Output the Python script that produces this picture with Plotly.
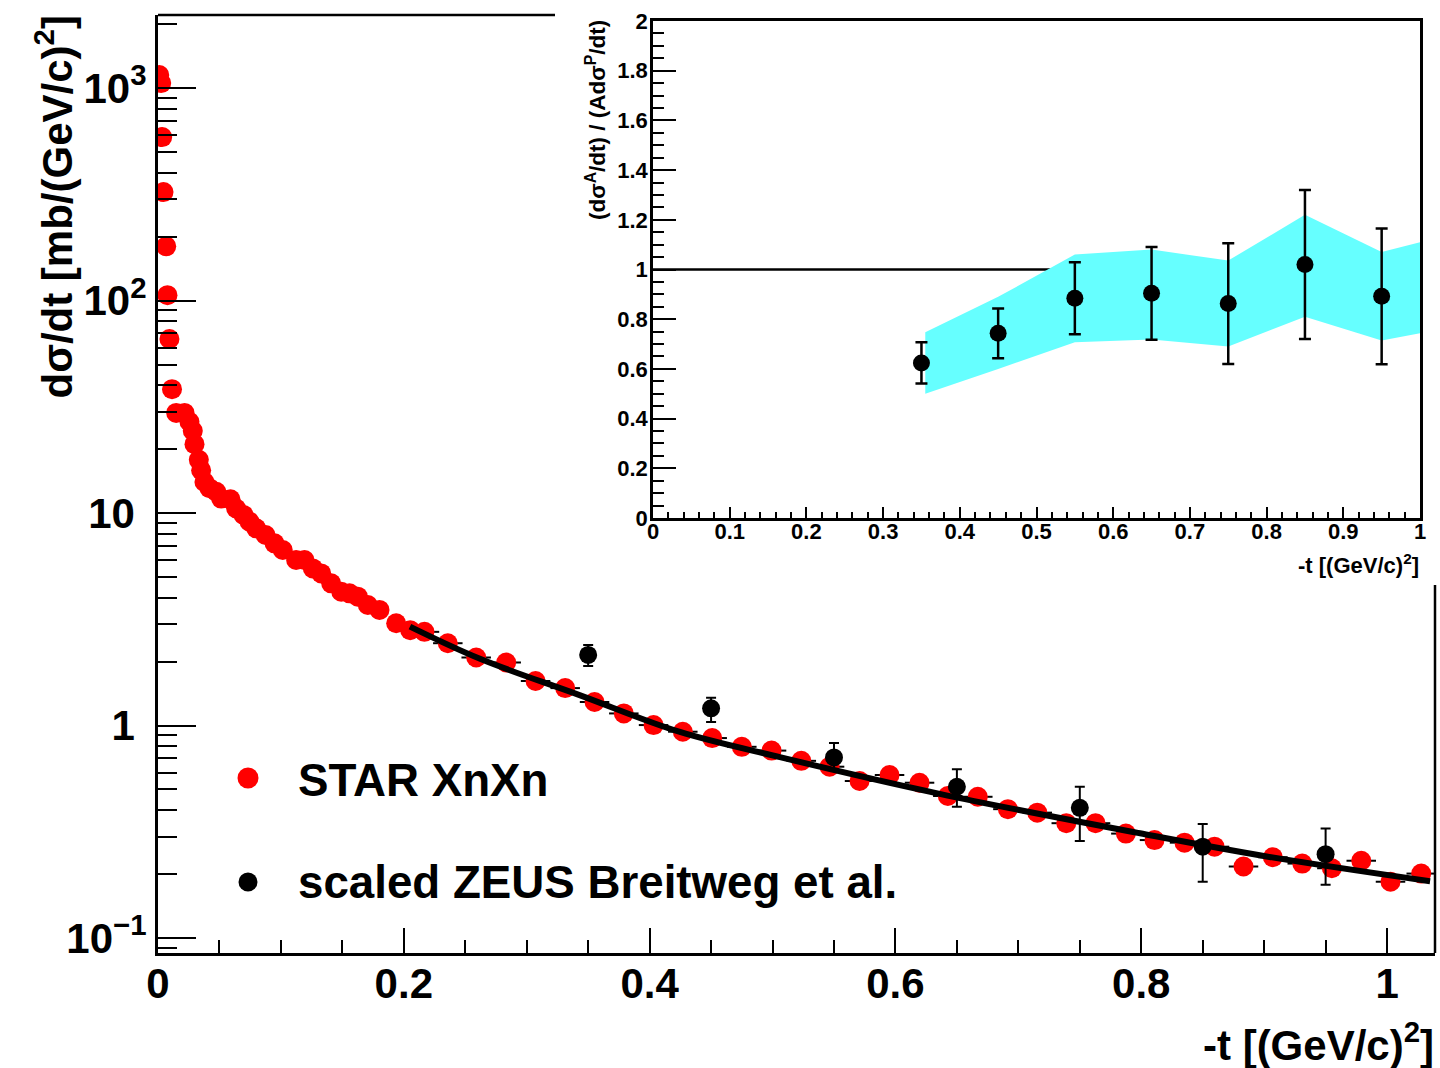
import plotly.graph_objects as go

# ---------------- data ----------------
# STAR XnXn, d sigma/dt [mb/(GeV/c)^2] vs -t [(GeV/c)^2]
star_t = [0.001, 0.0026, 0.0034, 0.0045, 0.0067, 0.0077, 0.0093, 0.0114, 0.0148,
          0.0216, 0.0256, 0.0283, 0.0297, 0.0332, 0.0351, 0.0378, 0.0419, 0.0474,
          0.0514, 0.0590, 0.0636, 0.0696, 0.0745, 0.0799, 0.0875, 0.0948, 0.1015,
          0.1124, 0.1192, 0.1260, 0.1328, 0.1409, 0.1491, 0.1558, 0.1626, 0.1707,
          0.1802, 0.1938,
          0.2052, 0.2168, 0.2358, 0.2589, 0.2833, 0.3072, 0.3313, 0.3552, 0.3790,
          0.4032, 0.4270, 0.4509, 0.4750, 0.4992, 0.5234, 0.5464, 0.5708, 0.5952,
          0.6196, 0.6426, 0.6670, 0.6915, 0.7154, 0.7390, 0.7628, 0.7875, 0.8108,
          0.8352, 0.8596, 0.8832, 0.9071, 0.9310, 0.9551, 0.9790, 1.0028, 1.0278]
star_val = [1151, 1056, 588, 324, 180, 106, 65.9, 38.3, 29.6,
            29.6, 26.9, 24.4, 21.1, 17.8, 15.9, 14.0, 13.1, 12.6,
            11.7, 11.6, 10.5, 9.8, 9.1, 8.47, 7.88, 7.20, 6.70,
            6.01, 6.01, 5.49, 5.20, 4.67, 4.26, 4.19, 4.04, 3.69,
            3.50, 3.03,
            2.81, 2.76, 2.44, 2.09, 1.98, 1.62, 1.50, 1.29, 1.14,
            1.005, 0.935, 0.873, 0.794, 0.762, 0.682, 0.640, 0.548, 0.585,
            0.538, 0.466, 0.462, 0.404, 0.389, 0.347, 0.347, 0.310, 0.289,
            0.281, 0.269, 0.217, 0.240, 0.224, 0.213, 0.231, 0.184, 0.201]
star_dt = [0] * 38 + [0.012] * 36   # half bin widths (horizontal bars)

# scaled ZEUS (Breitweg et al.)
zeus_t = [0.35, 0.45, 0.55, 0.65, 0.75, 0.85, 0.95]
zeus_val = [2.15, 1.205, 0.708, 0.515, 0.41, 0.269, 0.248]
zeus_err_hi = [0.24, 0.145, 0.12, 0.107, 0.105, 0.075, 0.08]
zeus_err_lo = [0.245, 0.165, 0.09, 0.10, 0.124, 0.085, 0.07]

# fit curve
fit_t = [0.205, 0.262, 0.343, 0.424, 0.506, 0.636, 0.799, 0.902, 1.035]
fit_val = [2.92, 2.06, 1.39, 0.935, 0.71, 0.477, 0.311, 0.242, 0.185]

# inset: ratio (d sigma^A/dt)/(A d sigma^P/dt)
ratio_t = [0.35, 0.45, 0.55, 0.65, 0.75, 0.85, 0.95]
ratio_val = [0.624, 0.743, 0.884, 0.904, 0.863, 1.02, 0.892]
ratio_err = [0.083, 0.10, 0.145, 0.187, 0.243, 0.30, 0.273]

band_t = [0.355, 0.45, 0.55, 0.65, 0.75, 0.85, 0.95, 1.0]
band_hi = [0.747, 0.89, 1.06, 1.08, 1.036, 1.22, 1.07, 1.11]
band_lo = [0.50, 0.60, 0.707, 0.718, 0.69, 0.81, 0.714, 0.743]
REF_RATIO = 1.0

PAD = "\u00a0"
main_yticks = [0.1, 1, 10, 100, 1000]
main_yticktext = ["10<sup>\u22121</sup>", "1" + PAD, "10" + PAD,
                  "10<sup>2</sup>", "10<sup>3</sup>"]

legend_labels = ["STAR XnXn", "scaled ZEUS Breitweg et al."]

# ---------------- figure ----------------
FONT = "Liberation Sans, Arial, Helvetica, sans-serif"
W, H = 1440, 1068
ML, MR, MT, MB = 158, 5, 15, 115
PW, PH = W - ML - MR, H - MT - MB


def px_x(p):
    return (p - ML) / PW


def px_y(p):
    return (H - MB - p) / PH


fig = go.Figure()

fig.add_trace(go.Scatter(
    x=star_t, y=star_val, mode="markers", name=legend_labels[0],
    marker=dict(color="#ff0000", size=20),
    error_x=dict(type="data", array=star_dt, color="black", thickness=2, width=0),
    xaxis="x", yaxis="y", showlegend=False))

fig.add_trace(go.Scatter(
    x=fit_t, y=fit_val, mode="lines", line=dict(color="black", width=6, shape="spline"),
    xaxis="x", yaxis="y", showlegend=False))

fig.add_trace(go.Scatter(
    x=zeus_t, y=zeus_val, mode="markers", name=legend_labels[1],
    marker=dict(color="black", size=18),
    error_y=dict(type="data", symmetric=False, array=zeus_err_hi, arrayminus=zeus_err_lo,
                 color="black", thickness=2, width=5),
    xaxis="x", yaxis="y", showlegend=False))

# inset band
fig.add_trace(go.Scatter(
    x=band_t + band_t[::-1], y=band_hi + band_lo[::-1], mode="lines", fill="toself",
    fillcolor="#66ffff", line=dict(width=0, color="#66ffff"),
    xaxis="x2", yaxis="y2", showlegend=False))

fig.add_trace(go.Scatter(
    x=ratio_t, y=ratio_val, mode="markers",
    marker=dict(color="black", size=17),
    error_y=dict(type="data", array=ratio_err, color="black", thickness=2.5, width=6),
    xaxis="x2", yaxis="y2", showlegend=False))

minor_log = [m * 10 ** e for e in range(-2, 4) for m in range(2, 10)]

fig.update_layout(
    width=W, height=H, autosize=False,
    margin=dict(l=ML, r=MR, t=MT, b=MB, autoexpand=False),
    paper_bgcolor="white", plot_bgcolor="white",
    font=dict(family=FONT, color="black"),
    showlegend=False,
    xaxis=dict(
        domain=[0, 1], range=[0, 1.039], anchor="y", automargin=False,
        showgrid=False, zeroline=False,
        showline=True, linecolor="black", linewidth=3,
        ticks="inside", ticklen=25, tickwidth=2, tickcolor="black",
        tickmode="linear", tick0=0, dtick=0.2, ticklabelstandoff=-8,
        minor=dict(ticks="inside", ticklen=13, tickwidth=2, tickcolor="black", dtick=0.05, tick0=0),
        tickfont=dict(size=42, family=FONT, weight="bold"),
    ),
    yaxis=dict(
        domain=[0, 1], type="log", range=[-1.0706, 3.344], anchor="x", automargin=False,
        showgrid=False, zeroline=False,
        showline=True, linecolor="black", linewidth=3,
        ticks="inside", ticklen=38, tickwidth=2, tickcolor="black",
        tickmode="array", tickvals=main_yticks, ticktext=main_yticktext,
        minor=dict(ticks="inside", ticklen=19, tickwidth=2, tickcolor="black",
                   tickmode="array", tickvals=minor_log),
        tickfont=dict(size=42, family=FONT, weight="bold"),
    ),
    xaxis2=dict(
        domain=[px_x(653), px_x(1420)], range=[0, 1], anchor="y2", automargin=False,
        showgrid=False, zeroline=False,
        showline=True, mirror=True, linecolor="black", linewidth=2.5,
        ticks="inside", ticklen=11, tickwidth=2, tickcolor="black",
        tickmode="linear", tick0=0, dtick=0.1, ticklabelstandoff=-8,
        minor=dict(ticks="inside", ticklen=6, tickwidth=1.5, tickcolor="black", dtick=0.02, tick0=0),
        tickfont=dict(size=22, family=FONT, weight="bold"),
    ),
    yaxis2=dict(
        domain=[px_y(518), px_y(21)], range=[0, 2], anchor="x2", automargin=False,
        showgrid=False, zeroline=False,
        showline=True, mirror=True, linecolor="black", linewidth=2.5,
        ticks="inside", ticklen=23, tickwidth=2, tickcolor="black",
        tickmode="linear", tick0=0, dtick=0.2, ticklabelstandoff=-2,
        minor=dict(ticks="inside", ticklen=11, tickwidth=1.5, tickcolor="black", dtick=0.05, tick0=0),
        tickfont=dict(size=22, family=FONT, weight="bold"),
    ),
)

shapes = [
    # main frame top (visible part) and right (visible part)
    dict(type="line", xref="paper", yref="paper", x0=0, x1=px_x(555), y0=1, y1=1,
         line=dict(color="black", width=2.5)),
    dict(type="line", xref="paper", yref="paper", x0=1, x1=1, y0=0, y1=px_y(585),
         line=dict(color="black", width=2.5)),
    # inset reference line at ratio = 1
    dict(type="line", xref="x2", yref="y2", x0=0, x1=1, y0=REF_RATIO, y1=REF_RATIO,
         line=dict(color="black", width=2.5), layer="below"),
    # legend symbols
    dict(type="circle", xref="paper", yref="paper", xsizemode="pixel", ysizemode="pixel",
         xanchor=px_x(248), yanchor=px_y(778), x0=-10.5, x1=10.5, y0=-10.5, y1=10.5,
         fillcolor="#ff0000", line=dict(width=0)),
    dict(type="circle", xref="paper", yref="paper", xsizemode="pixel", ysizemode="pixel",
         xanchor=px_x(248), yanchor=px_y(882), x0=-9.5, x1=9.5, y0=-9.5, y1=9.5,
         fillcolor="black", line=dict(width=0)),
]
fig.update_layout(shapes=shapes)

ann = [
    dict(text="d\u03c3/dt [mb/(GeV/c)<sup>2</sup>]", xref="paper", yref="paper",
         x=px_x(55), y=px_y(14), xanchor="center", yanchor="top", textangle=-90,
         showarrow=False, font=dict(size=42, family=FONT, weight="bold")),
    dict(text="-t [(GeV/c)<sup>2</sup>]", xref="paper", yref="paper",
         x=px_x(1436), y=px_y(1042), xanchor="right", yanchor="middle",
         showarrow=False, font=dict(size=42, family=FONT, weight="bold")),
    dict(text="-t [(GeV/c)<sup>2</sup>]", xref="paper", yref="paper",
         x=px_x(1421), y=px_y(564), xanchor="right", yanchor="middle",
         showarrow=False, font=dict(size=22, family=FONT, weight="bold")),
    dict(text="(d\u03c3<sup>A</sup>/dt) / (Ad\u03c3<sup>P</sup>/dt)", xref="paper", yref="paper",
         x=px_x(596), y=px_y(18), xanchor="center", yanchor="top", textangle=-90,
         showarrow=False, font=dict(size=22.5, family=FONT, weight="bold")),
    dict(text=legend_labels[0], xref="paper", yref="paper",
         x=px_x(296), y=px_y(780), xanchor="left", yanchor="middle",
         showarrow=False, font=dict(size=45.7, family=FONT, weight="bold")),
    dict(text=legend_labels[1], xref="paper", yref="paper",
         x=px_x(296), y=px_y(882), xanchor="left", yanchor="middle",
         showarrow=False, font=dict(size=45.7, family=FONT, weight="bold")),
]
fig.update_layout(annotations=ann)

fig.write_html(
    "out.html",
    config={"displayModeBar": False, "responsive": False},
    post_script="document.body.style.margin='0';document.body.style.overflow='hidden';",
)
